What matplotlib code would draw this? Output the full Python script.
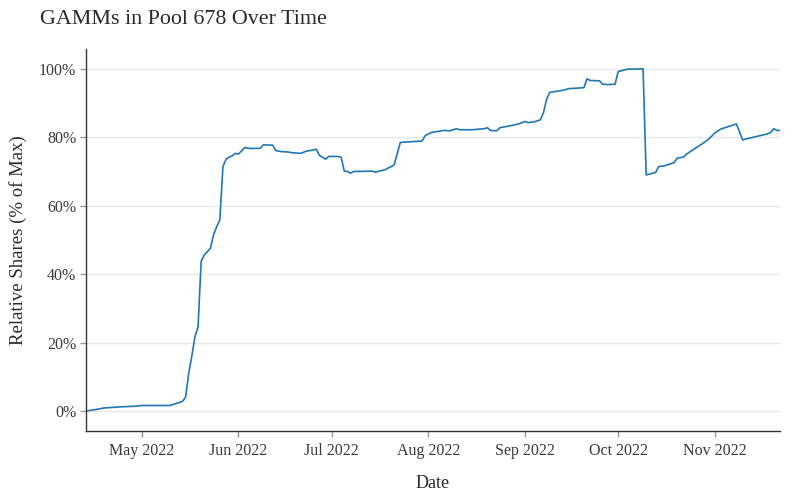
import matplotlib
matplotlib.use("Agg")
import matplotlib.pyplot as plt
import matplotlib.dates as mdates
import matplotlib.ticker as mticker
import pandas as pd

dates = [
    "2022-04-13", "2022-04-16", "2022-04-19", "2022-04-24", "2022-04-29", "2022-05-01",
    "2022-05-07", "2022-05-10", "2022-05-12", "2022-05-14", "2022-05-15", "2022-05-16",
    "2022-05-17", "2022-05-18", "2022-05-19", "2022-05-20", "2022-05-21", "2022-05-23",
    "2022-05-24", "2022-05-25", "2022-05-26", "2022-05-27", "2022-05-28", "2022-05-29",
    "2022-05-30", "2022-05-31", "2022-06-01", "2022-06-03", "2022-06-05", "2022-06-08",
    "2022-06-09", "2022-06-12", "2022-06-13", "2022-06-15", "2022-06-17", "2022-06-18",
    "2022-06-21", "2022-06-23", "2022-06-24", "2022-06-26", "2022-06-27", "2022-06-29",
    "2022-06-30", "2022-07-03", "2022-07-04", "2022-07-05", "2022-07-06", "2022-07-07",
    "2022-07-08", "2022-07-14", "2022-07-15", "2022-07-18", "2022-07-20", "2022-07-21",
    "2022-07-23", "2022-07-30", "2022-07-31", "2022-08-02", "2022-08-06", "2022-08-08",
    "2022-08-10", "2022-08-11", "2022-08-15", "2022-08-19", "2022-08-20", "2022-08-21",
    "2022-08-23", "2022-08-24", "2022-08-27", "2022-08-30", "2022-09-01", "2022-09-02",
    "2022-09-04", "2022-09-06", "2022-09-07", "2022-09-08", "2022-09-09", "2022-09-11",
    "2022-09-13", "2022-09-14", "2022-09-15", "2022-09-20", "2022-09-21", "2022-09-22",
    "2022-09-25", "2022-09-26", "2022-09-28", "2022-09-30", "2022-10-01", "2022-10-04",
    "2022-10-09", "2022-10-10", "2022-10-13", "2022-10-14", "2022-10-16", "2022-10-19",
    "2022-10-20", "2022-10-22", "2022-10-23", "2022-10-25", "2022-10-29", "2022-10-30",
    "2022-11-01", "2022-11-03", "2022-11-08", "2022-11-10", "2022-11-11", "2022-11-12",
    "2022-11-18", "2022-11-19", "2022-11-20", "2022-11-21", "2022-11-22",
]
shares_pct = [
    0.0, 0.4, 0.9, 1.2, 1.4, 1.6,
    1.6, 1.6, 2.2, 2.8, 4.0, 11.0,
    16.0, 21.7, 24.5, 43.7, 45.6, 47.6,
    51.5, 53.9, 55.8, 71.4, 73.6, 74.2,
    74.6, 75.3, 75.1, 77.0, 76.7, 76.8,
    77.8, 77.7, 76.1, 75.8, 75.7, 75.5,
    75.3, 76.0, 76.1, 76.5, 74.7, 73.6,
    74.4, 74.4, 74.1, 70.1, 70.0, 69.5,
    70.0, 70.1, 69.8, 70.5, 71.4, 71.9,
    78.5, 78.9, 80.5, 81.4, 82.0, 81.9,
    82.5, 82.2, 82.2, 82.5, 82.8, 82.0,
    81.9, 82.8, 83.3, 83.9, 84.6, 84.3,
    84.5, 85.1, 87.2, 91.1, 93.1, 93.4,
    93.7, 93.9, 94.2, 94.5, 97.1, 96.6,
    96.5, 95.5, 95.4, 95.5, 99.2, 99.9,
    100.0, 69.0, 69.7, 71.4, 71.7, 72.6,
    73.9, 74.2, 75.1, 76.3, 78.7, 79.4,
    81.2, 82.4, 83.9, 79.2, 79.5, 79.7,
    81.0, 81.4, 82.5, 82.0, 82.0,
]
y_ticks = [0, 20, 40, 60, 80, 100]

title = "GAMMs in Pool 678 Over Time"
x_label = "Date"
y_label = "Relative Shares (% of Max)"

plt.rcParams['font.family'] = ['Liberation Serif', 'DejaVu Serif']

x = pd.to_datetime(dates)

fig = plt.figure(figsize=(8, 5), dpi=100)
ax = fig.add_axes([86/800, 1 - 431/500, (780 - 86)/800, (431 - 49)/500])

ax.plot(x, shares_pct, color="#1f77b4", linewidth=1.2)

ax.set_xlim(x[0], x[-1])
ax.set_ylim(-5.85, 105.8)
ax.set_yticks(y_ticks)
ax.yaxis.set_major_formatter(mticker.FuncFormatter(lambda v, p: f"{int(v)}%"))
ax.xaxis.set_major_locator(mdates.MonthLocator())
ax.xaxis.set_major_formatter(mdates.DateFormatter("%b %Y"))

ax.grid(axis="y", color="#e8e8e8", linewidth=1)
ax.set_axisbelow(True)
for s in ["top", "right"]:
    ax.spines[s].set_visible(False)
for s in ["left", "bottom"]:
    ax.spines[s].set_color("#333333")
    ax.spines[s].set_linewidth(1)
ax.tick_params(axis="both", direction="out", length=4.5, width=1, color="#999999",
               labelsize=11.5, labelcolor="#3a3a3a")
ax.tick_params(axis="y", pad=2.5)
ax.tick_params(axis="x", pad=4)

ax.set_xlabel(x_label, fontsize=13, color="#2a2a2a", labelpad=12)
ax.set_ylabel(y_label, fontsize=13.5, color="#2a2a2a", labelpad=8.5)

fig.text(40/800, 1 - 20/500, title, fontsize=15.8, color="#2a2a2a", va="center", ha="left")

fig.savefig("out.png", dpi=100)
